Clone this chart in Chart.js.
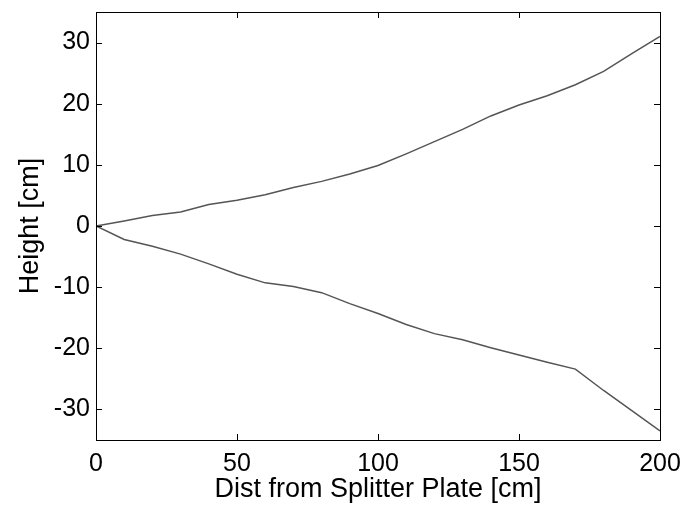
<!DOCTYPE html>
<html>
<head>
<meta charset="utf-8">
<script src="https://cdn.jsdelivr.net/npm/chart.js@4/dist/chart.umd.min.js"></script>
<style>
  html, body { margin: 0; padding: 0; background: #fff; }
  #wrap { width: 685px; height: 506px; }
</style>
</head>
<body>
<div id="wrap"><canvas id="c" width="685" height="506"></canvas></div>
<script>
const dist = [0, 10, 20, 30, 40, 50, 60, 70, 80, 90, 100, 110, 120, 130, 140, 150, 160, 170, 180, 190, 200];
const upperEdge = [0, 0.8, 1.7, 2.3, 3.5, 4.2, 5.1, 6.3, 7.3, 8.5, 9.9, 11.8, 13.8, 15.8, 18.0, 19.8, 21.3, 23.1, 25.3, 28.2, 31.0];
const lowerEdge = [0, -2.2, -3.3, -4.6, -6.2, -7.9, -9.3, -9.9, -10.9, -12.7, -14.3, -16.1, -17.6, -18.6, -19.9, -21.1, -22.3, -23.4, -26.9, -30.2, -33.5];
const xTicks = [0, 50, 100, 150, 200];
const yTicks = [-30, -20, -10, 0, 10, 20, 30];

const family = "'Liberation Sans', Arial, sans-serif";
const tickFont = { family: family, size: 25 };
const titleFont = { family: family, size: 27 };

function pts(ys) {
  return dist.map((x, i) => ({ x: x, y: ys[i] }));
}

// matlab-style box with inward ticks on all four sides
const boxTicks = {
  id: "boxTicks",
  afterDraw(chart) {
    const { ctx, chartArea: a, scales } = chart;
    const len = 6;
    ctx.save();
    ctx.strokeStyle = "#000";
    ctx.lineWidth = 1;
    ctx.strokeRect(a.left + 0.5, a.top + 0.5, a.right - a.left, a.bottom - a.top);
    ctx.beginPath();
    xTicks.forEach(v => {
      const px = Math.round(scales.x.getPixelForValue(v)) + 0.5;
      ctx.moveTo(px, a.bottom); ctx.lineTo(px, a.bottom - len);
      ctx.moveTo(px, a.top); ctx.lineTo(px, a.top + len);
    });
    yTicks.forEach(v => {
      const py = Math.round(scales.y.getPixelForValue(v)) + 0.5;
      ctx.moveTo(a.left, py); ctx.lineTo(a.left + len, py);
      ctx.moveTo(a.right, py); ctx.lineTo(a.right - len, py);
    });
    ctx.stroke();
    ctx.restore();
  }
};

new Chart(document.getElementById("c"), {
  type: "line",
  data: {
    datasets: [
      { data: pts(upperEdge), borderColor: "#555", borderWidth: 1.5, pointRadius: 0, tension: 0 },
      { data: pts(lowerEdge), borderColor: "#555", borderWidth: 1.5, pointRadius: 0, tension: 0 }
    ]
  },
  options: {
    responsive: false,
    animation: false,
    layout: { padding: { top: 12, right: 25, bottom: 0, left: 0 } },
    plugins: { legend: { display: false }, tooltip: { enabled: false } },
    scales: {
      x: {
        type: "linear",
        min: 0,
        max: 200,
        afterBuildTicks: s => { s.ticks = xTicks.map(v => ({ value: v })); },
        afterFit: s => { s.height = 66; s.paddingLeft = 0; s.paddingRight = 0; },
        grid: { display: false, drawTicks: false },
        border: { display: false },
        ticks: { color: "#000", font: tickFont, padding: 9, maxRotation: 0 },
        title: { display: true, text: "Dist from Splitter Plate [cm]", color: "#000", font: titleFont, padding: { top: 0, bottom: 0 } }
      },
      y: {
        type: "linear",
        min: -35,
        max: 35,
        afterBuildTicks: s => { s.ticks = yTicks.map(v => ({ value: v })); },
        afterFit: s => { s.width = 96; s.paddingTop = 0; s.paddingBottom = 0; },
        grid: { display: false, drawTicks: false },
        border: { display: false },
        ticks: { color: "#000", font: tickFont, padding: 6 },
        title: { display: true, text: "Height [cm]", color: "#000", font: titleFont, padding: { top: 14, bottom: 0 } }
      }
    }
  },
  plugins: [boxTicks]
});
</script>
</body>
</html>
